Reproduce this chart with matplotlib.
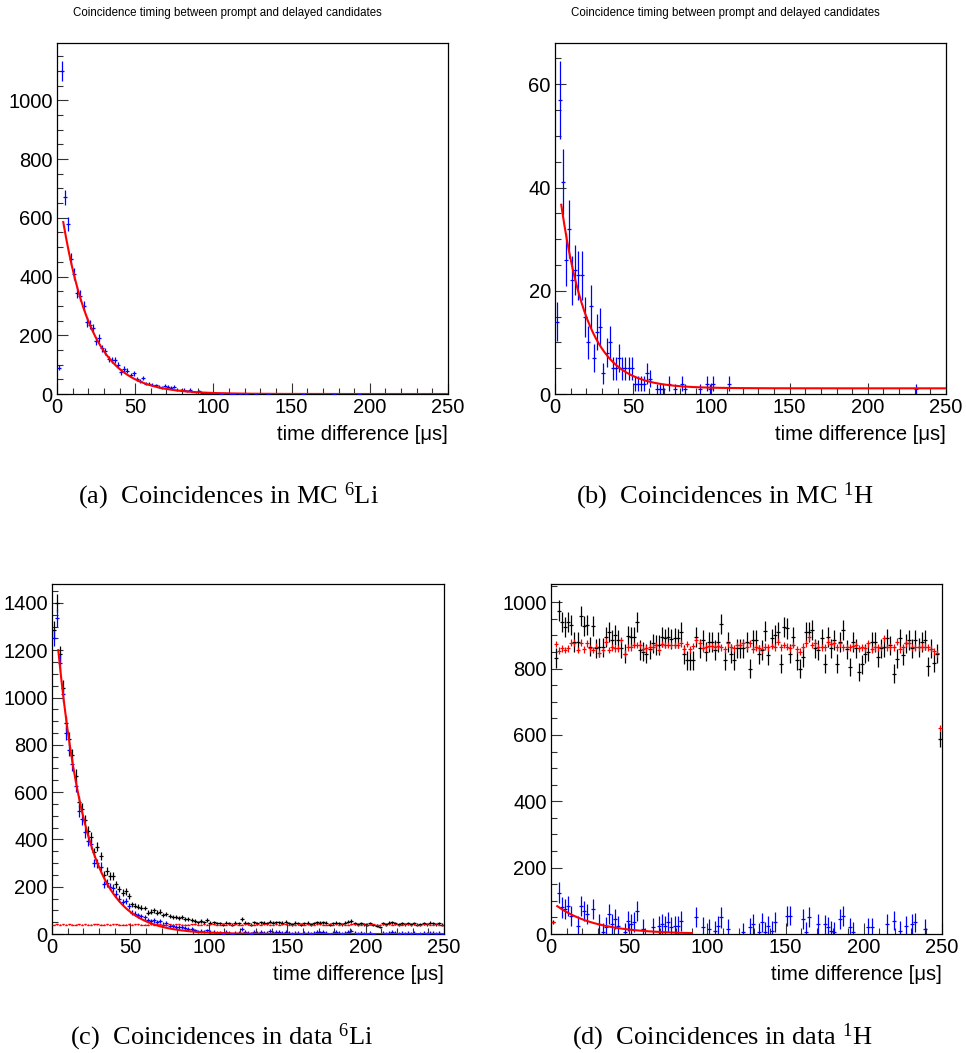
import numpy as np
import matplotlib.pyplot as plt
from matplotlib.ticker import MultipleLocator

plt.rcParams['font.family'] = ['Liberation Sans', 'DejaVu Sans']
plt.rcParams['mathtext.fontset'] = 'custom'
plt.rcParams['mathtext.rm'] = 'Liberation Serif'

# bin centres, 2 us bins from 0 to 250 us
t_bins = np.arange(1, 250, 2)

# (a) MC 6Li, coincidences
a_blue = [90, 1100, 670, 580, 460, 410, 345, 335, 300, 245,
          235, 225, 180, 190, 155, 145, 120, 115, 115, 100,
          75, 85, 80, 65, 70, 50, 45, 55, 35, 35,
          32, 30, 25, 22, 28, 25, 22, 25, 15, 12,
          15, 10, 15, 8, 6, 10, 5, 4, 3, 4,
          2, 3, 1, 2, 2, 1, 1, 0, 1, 0,
          1, 0, 0, 1, 0, 0, 0, 1, 0, 0,
          0, 0, 0, 0, 0, 0, 0, 0, 1, 0,
          0, 0, 0, 0, 0, 0, 0, 0, 1, 0,
          0, 0, 0, 0, 0, 0, 1, 0, 0, 0,
          0, 0, 0, 0, 0, 0, 0, 0, 0, 0,
          0, 0, 0, 0, 0, 0, 0, 0, 0, 0,
          0, 0, 0, 0, 0]
fit_a = (725.0, 18.7, 0.0)      # A, tau, const

# (b) MC 1H, coincidences (non-empty bins only)
b_t = [1, 3, 5, 7, 9, 11, 13, 15, 17, 19, 21, 23, 25, 27, 29, 31, 33, 35, 37, 39,
       41, 43, 45, 47, 49, 51, 53, 55, 57, 59, 61, 65, 67, 69, 73, 77, 81, 83, 93,
       97, 99, 101, 111, 231]
b_blue = [14, 57, 41, 26, 32, 22, 24, 23, 23, 15, 10, 17, 7, 12, 13, 4, 8, 10, 5, 5,
          7, 5, 5, 5, 5, 2, 2, 2, 2, 4, 3, 1, 1, 1, 2, 1, 2, 1, 1,
          2, 1, 2, 2, 1]
fit_b = (45.0, 17.0, 1.1)

# (c) data 6Li: all coincidences, accidentals, subtracted
c_black = [1287, 1400, 1185, 1041, 893, 825, 755, 670, 560, 530,
           482, 437, 409, 345, 370, 330, 250, 265, 245, 245,
           210, 190, 175, 180, 160, 125, 120, 115, 112, 110,
           90, 95, 100, 90, 95, 80, 85, 75, 72, 70,
           68, 70, 65, 65, 60, 55, 50, 55, 50, 60,
           48, 50, 45, 45, 40, 48, 45, 40, 48, 45,
           62, 48, 45, 40, 50, 45, 50, 48, 45, 52,
           48, 50, 50, 48, 52, 45, 42, 48, 45, 40,
           45, 48, 42, 45, 50, 48, 50, 48, 40, 45,
           48, 45, 42, 48, 52, 55, 45, 42, 45, 42,
           40, 45, 38, 35, 30, 45, 42, 48, 50, 45,
           42, 45, 42, 45, 42, 45, 40, 42, 45, 42,
           48, 45, 42, 45, 40]
c_red = [38, 41, 40, 42, 39, 41, 40, 40, 42, 39,
         41, 40, 39, 41, 42, 40, 39, 41, 40, 41,
         42, 40, 39, 40, 41, 39, 41, 42, 40, 40,
         39, 41, 40, 42, 41, 39, 40, 41, 40, 42,
         41, 40, 39, 40, 42, 41, 40, 39, 41, 40,
         42, 41, 40, 39, 41, 40, 42, 40, 41, 39,
         40, 42, 41, 40, 39, 41, 40, 42, 41, 40,
         39, 41, 40, 41, 42, 40, 39, 40, 41, 42,
         40, 41, 39, 40, 42, 41, 40, 39, 41, 40,
         42, 40, 41, 39, 40, 41, 42, 40, 39, 41,
         40, 42, 41, 40, 39, 41, 40, 42, 40, 41,
         39, 40, 41, 42, 40, 41, 39, 40, 42, 41,
         40, 39, 41, 40, 38]
c_blue = [1252, 1337, 1146, 1013, 851, 780, 717, 625, 520, 485,
          430, 395, 380, 300, 300, 285, 210, 215, 200, 195,
          170, 150, 135, 140, 120, 90, 85, 80, 75, 70,
          60, 55, 58, 50, 55, 40, 45, 35, 32, 30,
          28, 28, 25, 22, 20, 15, 10, 12, 10, 15,
          8, 10, 5, 8, 2, 8, 5, 0, 6, 5,
          20, 8, 5, 2, 10, 5, 8, 6, 4, 12,
          5, 8, 9, 6, 10, 5, 2, 6, 5, 0,
          4, 6, 2, 5, 8, 7, 10, 6, 0, 4,
          8, 5, 2, 6, 10, 14, 4, 2, 5, 2,
          0, 4, -2, -5, -10, 4, 2, 6, 9, 5,
          2, 4, 2, 5, 2, 4, 0, 2, 5, 2,
          6, 4, 2, 4, 0]
fit_c = (1499.0, 18.0, 0.0)

# (d) data 1H: all coincidences, accidentals, subtracted
d_black = [35,
           832, 975, 941, 926, 941, 931, 881, 881, 959, 928,
           931, 866, 928, 861, 864, 864, 894, 911, 886, 901,
           886, 861, 845, 898, 894, 894, 941, 856, 851, 845,
           858, 876, 871, 871, 894, 891, 896, 889, 893, 891,
           911, 843, 825, 825, 825, 894, 861, 886, 851, 881,
           881, 856, 881, 934, 825, 881, 845, 825, 861, 861,
           861, 881, 800,
           886, 886, 843, 856, 914, 840, 891, 901, 911, 815,
           926, 921, 845, 894, 825, 800, 835, 911, 911, 916,
           861, 856, 891, 815, 894, 861, 886, 815, 881, 916,
           858, 805, 881, 861,
           790,
           813, 845, 851, 881, 881, 835, 861, 864, 891, 870,
           785,
           830, 891, 840, 876, 886, 861, 886, 864, 881, 886,
           807, 860, 818, 845,
           588]
d_red = [35,
         874, 854, 861, 856, 861, 878, 878, 856, 878, 858,
         876, 861, 856, 866, 846, 856, 881, 856, 864, 861,
         861, 886, 845, 864, 864, 871, 871, 871, 858, 861,
         864, 866, 871, 856, 874, 871, 871, 871, 871, 871,
         876, 858, 874, 858, 868, 886, 876, 861, 864, 868,
         868, 864, 868, 864, 858, 876, 864, 861, 871, 871,
         876, 866, 876,
         858, 864, 861, 858, 866, 864, 868, 864, 881, 864,
         871, 866, 861, 871, 858, 851, 866, 876, 894, 871,
         876, 864, 864, 864, 881, 874, 878, 864, 876, 864,
         864, 864, 868, 871,
         861,
         864, 861, 876, 858, 864, 864, 864, 891, 864, 866,
         864,
         881, 858, 864, 876, 876, 864, 864, 864, 866, 866,
         864, 860, 852, 846,
         621]
d_blue_t = [5, 7, 9, 11, 13, 17, 19, 21, 23, 27, 31, 33, 35, 37, 39, 41, 43, 47, 49, 51,
            53, 55, 59, 65, 69, 71, 73, 75, 77, 79, 81, 83, 93, 97, 101, 105, 107, 109,
            113, 123, 127, 129, 133, 135, 137, 139, 141, 143, 151, 153, 161, 163, 165,
            171, 175, 177, 179, 181, 185, 187, 191, 193, 203, 205, 215, 219, 223, 227,
            231, 233, 239]
d_blue = [125, 80, 75, 85, 55, 25, 85, 70, 60, 75, 30, 5, 20, 60, 30, 45, 25, 5, 40, 30,
          35, 70, 15, 20, 25, 30, 25, 35, 20, 25, 25, 40, 50, 20, 15, 10, 25, 50,
          15, 5, 20, 30, 5, 35, 5, 25, 10, 35, 55, 55, 45, 5, 50,
          30, 30, 20, 10, 5, 45, 55, 20, 5, 20, 20, 30, 40, 10, 25,
          30, 35, 15]
fit_d = (98.6, 25.0, 0.0)

titles = ['Coincidence timing between prompt and delayed candidates'] * 2
captions = [r'(a)  Coincidences in MC $\mathregular{^{6}}$Li',
            r'(b)  Coincidences in MC $\mathregular{^{1}}$H',
            r'(c)  Coincidences in data $\mathregular{^{6}}$Li',
            r'(d)  Coincidences in data $\mathregular{^{1}}$H']

BLUE = '#0000ff'
RED = '#ff0000'
W, H = 966, 1053


def expo(t, p):
    A, tau, c = p
    return A * np.exp(-t / tau) + c


def hist(ax, t, n, color, err=None, xerr=None, ms=3.0):
    t = np.asarray(t, float)
    n = np.asarray(n, float)
    if err is None:
        err = np.sqrt(np.abs(n))
    ax.errorbar(t, n, yerr=err, xerr=xerr, fmt='_', color=color, ms=ms, mew=0.9,
                elinewidth=0.9, capsize=0, zorder=3)


def setup(ax, ymax, ymaj, ymin):
    ax.set_xlim(0, 250)
    ax.set_ylim(0, ymax)
    ax.xaxis.set_major_locator(MultipleLocator(50))
    ax.xaxis.set_minor_locator(MultipleLocator(10))
    ax.yaxis.set_major_locator(MultipleLocator(ymaj))
    ax.yaxis.set_minor_locator(MultipleLocator(ymin))
    ax.tick_params(which='both', direction='in', top=False, right=False,
                   labelsize=14.5, width=0.8, color='#333333')
    ax.tick_params(which='major', length=8, pad=3)
    ax.tick_params(which='minor', length=4)
    for s in ax.spines.values():
        s.set_linewidth(0.9)
    ax.set_xlabel('time difference [μs]', loc='right', fontsize=14.5, labelpad=6)


def box(l, t, r, b):
    return [l / W, 1 - b / H, (r - l) / W, (b - t) / H]


fig = plt.figure(figsize=(W / 100, H / 100), dpi=100)

# (a)
ax = fig.add_axes(box(57, 43, 448, 394))
setup(ax, 1195, 200, 50)
m = np.asarray(a_blue) > 0
hist(ax, t_bins[m], np.asarray(a_blue)[m], BLUE)
tt = np.linspace(4, 250, 400)
ax.plot(tt, expo(tt, fit_a), color=RED, lw=1.5, zorder=4)

# (b)
ax = fig.add_axes(box(555, 43, 946, 394))
setup(ax, 68, 20, 5)
hist(ax, b_t, b_blue, BLUE)
ax.plot(tt, expo(tt, fit_b), color=RED, lw=1.5, zorder=4)

# (c)
ax = fig.add_axes(box(52, 584, 444, 934))
setup(ax, 1480, 200, 50)
hist(ax, t_bins, c_black, 'black')
hist(ax, t_bins, c_blue, BLUE, err=np.sqrt(c_black))
hist(ax, t_bins, c_red, RED, err=np.sqrt(c_red) / 3, xerr=0.8, ms=2)
ax.plot(tt, expo(tt, fit_c), color=RED, lw=1.5, zorder=4)

# (d)
ax = fig.add_axes(box(551, 584, 942, 934))
setup(ax, 1055, 200, 50)
hist(ax, t_bins, d_black, 'black')
hist(ax, t_bins, d_red, RED, err=np.sqrt(d_red) / 3)
d_err = np.sqrt(np.asarray(d_black)[(np.asarray(d_blue_t) - 1) // 2])
hist(ax, d_blue_t, d_blue, BLUE, err=d_err)
td = np.linspace(4, 90, 200)
ax.plot(td, expo(td, fit_d), color=RED, lw=1.5, zorder=4)

# titles and captions
for x, s in zip([227, 725], titles):
    fig.text(x / W, 1 - 13 / H, s, ha='center', va='center', fontsize=8.3)

cap_pos = [(78, 503), (576, 503), (70, 1044), (572, 1044)]
for (x, y), s in zip(cap_pos, captions):
    fig.text(x / W, 1 - y / H, s, ha='left', va='baseline', fontsize=19,
             family='Liberation Serif')

fig.savefig('out.png', dpi=100)
